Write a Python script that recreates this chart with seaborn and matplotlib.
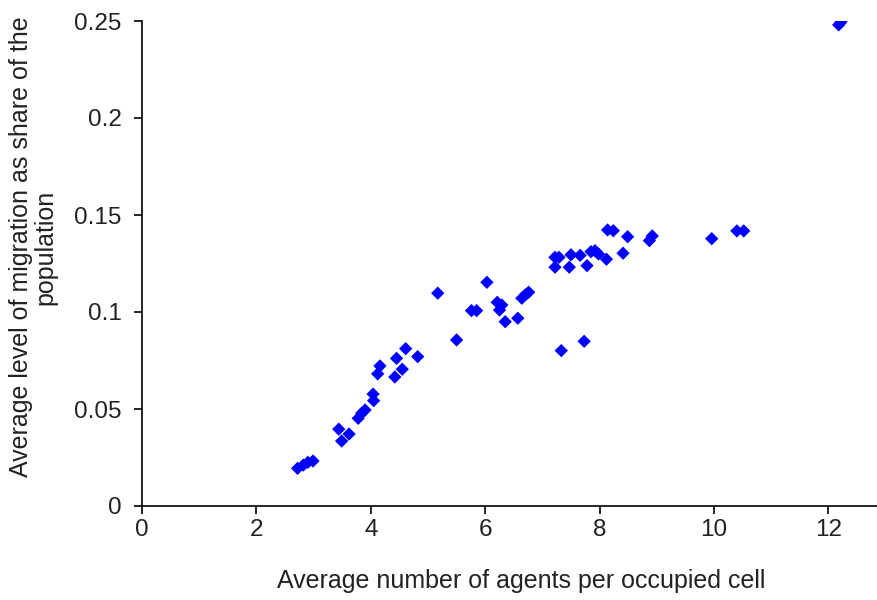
import matplotlib
matplotlib.use("Agg")
import matplotlib.pyplot as plt
import seaborn as sns
import pandas as pd

agents_per_cell = [
    2.72, 2.82, 2.90, 2.99, 3.44, 3.49, 3.62, 3.78, 3.84, 3.90,
    4.04, 4.05, 4.12, 4.16, 4.42, 4.45, 4.55, 4.61, 4.82, 5.17,
    5.50, 6.03, 5.76, 5.85, 6.21, 6.29, 6.25, 6.35, 6.57, 6.64,
    6.70, 6.76, 7.33, 7.73, 7.22, 7.22, 7.29, 7.47, 7.50, 7.66,
    7.78, 7.85, 7.92, 7.98, 8.12, 8.14, 8.24, 8.41, 8.49, 8.87,
    8.92, 9.96, 10.40, 10.52, 12.18, 12.22,
]
migration_share = [
    0.0194, 0.0211, 0.0225, 0.0232, 0.0396, 0.0335, 0.0371, 0.0452, 0.0478, 0.0495,
    0.0577, 0.0543, 0.0681, 0.0722, 0.0665, 0.0761, 0.0705, 0.0811, 0.0770, 0.1097,
    0.0856, 0.1153, 0.1007, 0.1007, 0.1050, 0.1036, 0.1010, 0.0950, 0.0968, 0.1071,
    0.1088, 0.1102, 0.0801, 0.0849, 0.1231, 0.1282, 0.1282, 0.1231, 0.1295, 0.1292,
    0.1239, 0.1311, 0.1316, 0.1299, 0.1272, 0.1423, 0.1419, 0.1303, 0.1388, 0.1368,
    0.1392, 0.1378, 0.1418, 0.1418, 0.2480, 0.2495,
]
x_ticks = [0, 2, 4, 6, 8, 10, 12]
y_ticks = [0, 0.05, 0.1, 0.15, 0.2, 0.25]
y_tick_labels = ["0", "0.05", "0.1", "0.15", "0.2", "0.25"]

sns.set_theme(style="white")
plt.rcParams["font.family"] = ["Liberation Sans", "DejaVu Sans"]

df = pd.DataFrame({"x": agents_per_cell, "y": migration_share})

fig = plt.figure(figsize=(8.77, 6.0), dpi=100)
ax = fig.add_axes([142 / 877, 94 / 600, (877 - 142) / 877, (506 - 21) / 600])

sns.scatterplot(data=df, x="x", y="y", ax=ax, marker="D", s=46,
                color="#0000FF", edgecolor="none", linewidth=0, legend=False)

ax.set_xlim(0, (877 - 142) / 57.2)
ax.set_ylim(0, 0.25)
ax.set_xticks(x_ticks)
ax.set_xticklabels([str(t) for t in x_ticks])
ax.set_yticks(y_ticks)
ax.set_yticklabels(y_tick_labels)

for side in ["top", "right"]:
    ax.spines[side].set_visible(False)
for side in ["left", "bottom"]:
    ax.spines[side].set_color("black")
    ax.spines[side].set_linewidth(1.2)

ax.tick_params(axis="both", which="major", direction="out", length=5.5, width=1.2,
               color="black", labelsize=17.5, labelcolor="#222222")
ax.tick_params(axis="x", pad=4)
ax.tick_params(axis="y", pad=9)
ax.tick_params(bottom=True, left=True)

ax.set_xlabel("Average number of agents per occupied cell", fontsize=18,
              color="#222222", labelpad=20)
ax.set_ylabel("Average level of migration as share of the\npopulation", fontsize=18,
              color="#222222", labelpad=12, linespacing=1.05)
ax.xaxis.label.set_x(0.516)
ax.yaxis.label.set_y(0.534)
ax.grid(False)

fig.savefig("out.png", dpi=100, facecolor="white")
